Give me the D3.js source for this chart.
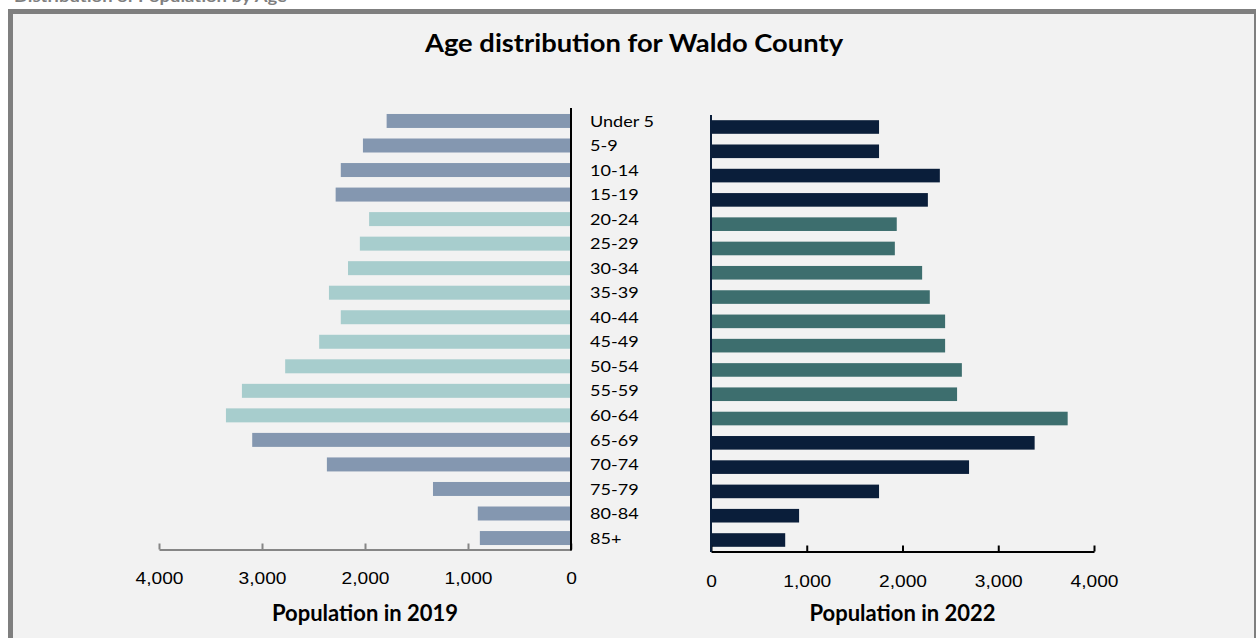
<!DOCTYPE html>
<html>
<head>
<meta charset="utf-8">
<script src="https://cdn.jsdelivr.net/npm/d3@7"></script>
<style>
  body { margin: 0; background: #fff; }
  svg { display: block; font-family: Lato, "Open Sans", sans-serif; }
</style>
</head>
<body>
<div id="chart"></div>
<script>
const ageGroups = ["Under 5", "5-9", "10-14", "15-19", "20-24", "25-29", "30-34", "35-39",
  "40-44", "45-49", "50-54", "55-59", "60-64", "65-69", "70-74", "75-79", "80-84", "85+"];
const pop2019 = [1790, 2020, 2235, 2285, 1960, 2050, 2165, 2350,
  2235, 2445, 2775, 3195, 3350, 3095, 2370, 1340, 905, 885];
const pop2022 = [1755, 1755, 2390, 2265, 1940, 1920, 2205, 2285,
  2445, 2445, 2620, 2570, 3725, 3380, 2695, 1755, 920, 775];
// working-age groups (20-64) get the teal colour
const workingAge = ["20-24", "25-29", "30-34", "35-39", "40-44", "45-49", "50-54", "55-59", "60-64"];
const xTicks = [0, 1000, 2000, 3000, 4000];

const W = 1256, H = 638;
const svg = d3.select("#chart").append("svg").attr("width", W).attr("height", H);

// frame
svg.append("rect")
  .attr("x", 10.5).attr("y", 11.5)
  .attr("width", 1246).attr("height", 640)
  .attr("fill", "#f2f2f2")
  .attr("stroke", "#7f7f7f")
  .attr("stroke-width", 5);

// heading above the frame, mostly cut off by the page top
svg.append("text")
  .attr("transform", "translate(14,2) scale(1.15,1)")
  .attr("fill", "#7f7f7f")
  .style("font-size", "16px")
  .style("font-weight", "bold")
  .text("Distribution of Population by Age");

svg.append("text")
  .attr("transform", "translate(634,52) scale(1.14,1)")
  .attr("text-anchor", "middle")
  .style("font-size", "24px")
  .style("font-weight", "bold")
  .attr("fill", "#000")
  .text("Age distribution for Waldo County");

// ---- left: 2019 ----
const yL = d3.scaleBand().domain(ageGroups).range([108.7, 550.3])
  .paddingInner(0.43).paddingOuter(0.215);
const xL = d3.scaleLinear().domain([0, 4000]).range([571, 159]);

svg.append("g").selectAll("rect")
  .data(ageGroups)
  .join("rect")
  .attr("x", (d, i) => xL(pop2019[i]))
  .attr("y", d => yL(d))
  .attr("width", (d, i) => xL(0) - xL(pop2019[i]))
  .attr("height", yL.bandwidth())
  .attr("fill", d => workingAge.includes(d) ? "#a7cdcd" : "#8497b0");

const axL = svg.append("g")
  .attr("transform", "translate(0,549.5)")
  .call(d3.axisBottom(xL).tickValues(xTicks).tickFormat(d3.format(",")).tickSize(-6).tickSizeOuter(0).tickPadding(22));
axL.select(".domain").attr("stroke", "#868686").attr("stroke-width", 2);
axL.selectAll(".tick line").attr("stroke", "#868686").attr("stroke-width", 2);
axL.selectAll("text").style("font-size", "17px").attr("fill", "#000")
  .attr("transform", "scale(1.13,1)");

svg.append("line")
  .attr("x1", xL(0)).attr("x2", xL(0))
  .attr("y1", 108).attr("y2", 550.5)
  .attr("stroke", "#000").attr("stroke-width", 2);

svg.append("text")
  .attr("x", xL(2000)).attr("y", 621)
  .attr("text-anchor", "middle")
  .style("font-size", "22px").style("font-weight", "bold")
  .text("Population in 2019");

// ---- category labels ----
svg.append("g").selectAll("text")
  .data(ageGroups)
  .join("text")
  .attr("transform", d => `translate(590,${yL(d) + yL.bandwidth() / 2}) scale(1.13,1)`)
  .attr("dy", "0.35em")
  .style("font-size", "16px")
  .attr("fill", "#000")
  .text(d => d);

// ---- right: 2022 ----
const yR = d3.scaleBand().domain(ageGroups).range([114.85, 552.15])
  .paddingInner(0.44).paddingOuter(0.22);
const xR = d3.scaleLinear().domain([0, 4000]).range([711, 1094]);

svg.append("g").selectAll("rect")
  .data(ageGroups)
  .join("rect")
  .attr("x", xR(0))
  .attr("y", d => yR(d))
  .attr("width", (d, i) => xR(pop2022[i]) - xR(0))
  .attr("height", yR.bandwidth())
  .attr("fill", d => workingAge.includes(d) ? "#3d6e6e" : "#0a1e3a");

const axR = svg.append("g")
  .attr("transform", "translate(0,551.5)")
  .call(d3.axisBottom(xR).tickValues(xTicks).tickFormat(d3.format(",")).tickSize(-6).tickSizeOuter(0).tickPadding(23));
axR.select(".domain").attr("stroke", "#000").attr("stroke-width", 2);
axR.selectAll(".tick line").attr("stroke", "#000").attr("stroke-width", 2);
axR.selectAll("text").style("font-size", "17px").attr("fill", "#000")
  .attr("transform", "scale(1.13,1)");

svg.append("line")
  .attr("x1", xR(0)).attr("x2", xR(0))
  .attr("y1", 115).attr("y2", 552)
  .attr("stroke", "#0a1e3a").attr("stroke-width", 2);

svg.append("text")
  .attr("x", xR(2000)).attr("y", 621)
  .attr("text-anchor", "middle")
  .style("font-size", "22px").style("font-weight", "bold")
  .text("Population in 2022");
</script>
</body>
</html>
